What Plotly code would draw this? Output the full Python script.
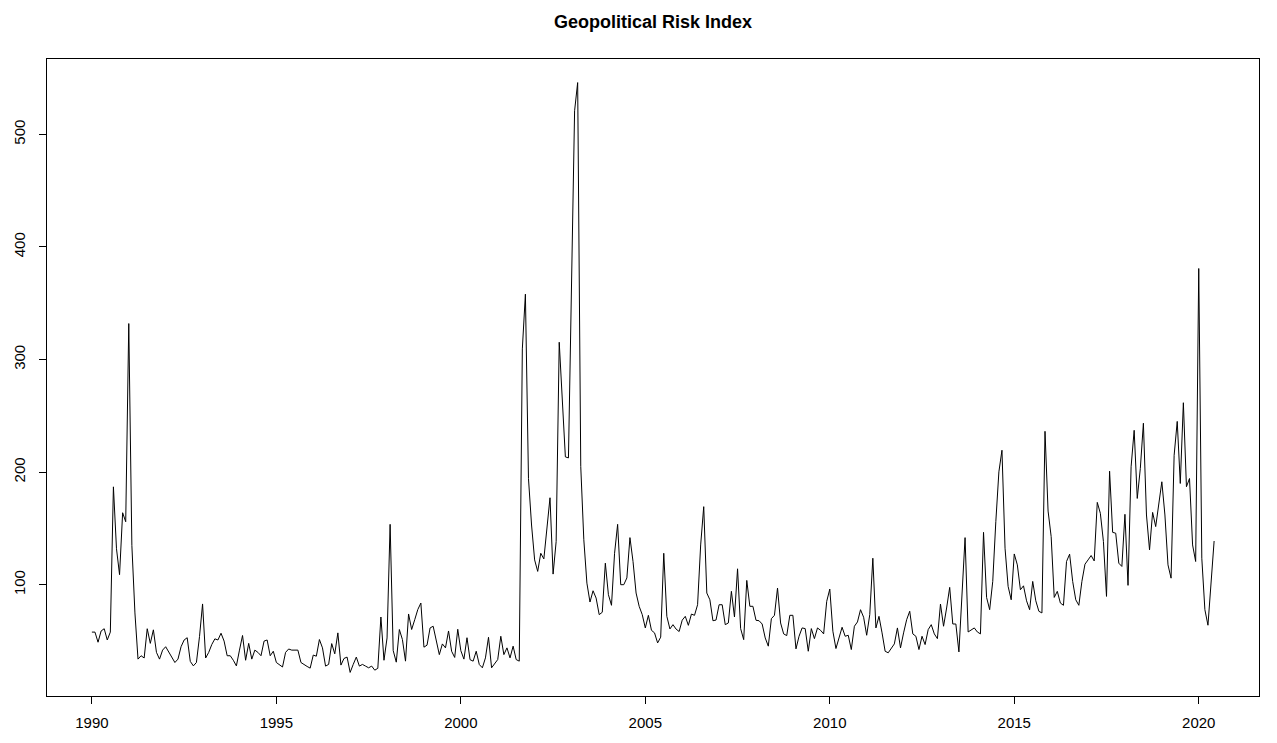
import numpy as np
import plotly.graph_objects as go

# Monthly Geopolitical Risk Index, January 1990 onward
start_year = 1990
gpr_1990s = [
    58, 58, 49, 59, 61, 51, 58, 187, 132, 109, 164, 156,
    332, 135, 75, 34, 37, 35, 61, 48, 60, 40, 34, 42,
    45, 40, 36, 31, 34, 45, 51, 53, 32, 28, 31, 54,
    83, 35, 40, 47, 52, 51, 57, 50, 37, 37, 33, 28,
    42, 55, 33, 48, 34, 42, 40, 37, 50, 51, 37, 41,
    31, 29, 27, 40, 43, 42, 42, 42, 31, 29, 27.5, 26,
    37.6, 36.6, 51.4, 44, 27.8, 29.3, 47.8, 38.7, 57.3, 28.7, 34.6, 35.8,
    22.2, 29.3, 35.8, 27.8, 29.3, 27.8, 26.3, 27.8, 24.2, 25.8, 71.4, 33,
    52.8, 153.7, 41.6, 31.3, 60.3, 51.4, 32.2, 74.1, 60.3, 69, 78, 83.8,
    44.6, 46.4, 61.7, 63.2, 50, 38, 47.5, 44, 59, 41, 35.5, 60.5,
]
gpr_2000s = [
    41.5, 34, 53, 33.5, 32.2, 41, 29.2, 26.3, 35.1, 53.4, 26.3, 29.8,
    33.6, 54.3, 38, 44, 35.1, 45.5, 33.6, 32.2, 309.5, 358.1, 194.4, 153.1,
    122.1, 111.9, 128, 123, 147.3, 177.3, 109.5, 138.4, 315.4, 265, 213.6, 212.7,
    370, 521, 546, 205, 140, 101.5, 84.7, 94.7, 88.2, 73.5, 75.6, 119.2,
    91.2, 81.8, 128, 153.7, 100.1, 100.1, 106.1, 141.9, 120.7, 92.7, 80.9, 73.5,
    61.7, 72.9, 59.6, 57.3, 48.4, 53.5, 128, 72, 60.8, 64.6, 60.7, 58.5,
    68.6, 72, 64, 74, 72.9, 82.3, 135.4, 169.4, 92.7, 86.7, 68.1, 68.7,
    82.3, 82.3, 64.6, 66.1, 94.2, 71.4, 114.2, 61.1, 51.3, 103.9, 80.9, 80.9,
    68.5, 68.1, 65.2, 52.8, 45.5, 69.9, 72.9, 97.1, 66.1, 56.4, 54.9, 72.9,
    72.9, 43.1, 54.3, 61.7, 61.1, 41, 61.1, 52.2, 61.7, 59.6, 56.4, 85.3,
]
gpr_2010s = [
    96.2, 58.8, 43.4, 53.4, 62.3, 54.3, 55.2, 42.5, 63.2, 67, 77.9, 71.2,
    55.2, 73.5, 123.6, 61.7, 72, 57.3, 41, 39.6, 43.4, 47.5, 61.7, 44,
    57.3, 69, 76.5, 56.4, 54.3, 42.5, 54.3, 46.9, 60.2, 64.6, 56.4, 52.2,
    82.9, 63.2, 79.4, 97.7, 65.2, 65.2, 40.4, 97.1, 141.9, 58.1, 60.2, 61.7,
    58.1, 56.4, 146.6, 88.8, 77.9, 103, 156.1, 200.3, 219.5, 132.5, 98.6, 86.7,
    127.4, 117.7, 95.6, 99.1, 85.8, 77.9, 103, 85.8, 76.5, 75, 236.3, 165.5,
    142.8, 88.8, 94.2, 83.8, 81.8, 120.7, 127.2, 103, 86.7, 81.8, 103, 118.3,
    122.1, 126, 121.2, 173.2, 163.5, 138.4, 89.7, 200.9, 146.6, 145.8, 119.2, 116.3,
    162.6, 99.5, 204.8, 237.2, 176.7, 203.3, 243.5, 162, 131, 164.3, 151.7, 174.3,
    191.5, 162, 117.7, 105.9, 215, 245.1, 190, 261.7, 187.1, 194.4, 135.4, 120.7,
]
gpr_2020 = [380.9, 123.6, 77.9, 64.1, 100, 138.9]

x_ticks = [1990, 1995, 2000, 2005, 2010, 2015, 2020]
y_ticks = [100, 200, 300, 400, 500]

values = np.array(gpr_1990s + gpr_2000s + gpr_2010s + gpr_2020, dtype=float)
time = start_year + np.arange(len(values)) / 12.0

# base-R style axis limits: data range extended by 4% on each side
def padded(lo, hi, frac=0.04):
    d = (hi - lo) * frac
    return [lo - d, hi + d]

xr = padded(time.min(), time.max())
yr = padded(values.min(), values.max())

font_family = "Liberation Sans, Arial, Helvetica, sans-serif"

fig = go.Figure()
fig.add_trace(go.Scatter(
    x=time, y=values, mode="lines",
    line=dict(color="black", width=1),
    hoverinfo="x+y", showlegend=False,
))

fig.update_layout(
    width=1277, height=743,
    margin=dict(l=47, r=18, t=59, b=47),
    paper_bgcolor="white", plot_bgcolor="white",
    font=dict(family=font_family, color="black", size=15),
    title=dict(
        text="<b>Geopolitical Risk Index</b>",
        x=0.5, xref="paper", xanchor="center",
        y=1 - 22 / 743, yref="container", yanchor="middle",
        font=dict(family=font_family, size=18, color="black"),
    ),
)
fig.update_xaxes(
    range=xr, tickmode="array", tickvals=x_ticks,
    ticktext=[str(t) for t in x_ticks],
    ticks="outside", ticklen=7, tickwidth=1, tickcolor="black",
    showline=True, linecolor="black", linewidth=1, mirror=True,
    showgrid=False, zeroline=False, ticklabelstandoff=6,
)
fig.update_yaxes(
    range=yr, tickmode="array", tickvals=y_ticks,
    ticktext=[str(t) for t in y_ticks], tickangle=-90,
    ticks="outside", ticklen=7, tickwidth=1, tickcolor="black",
    showline=True, linecolor="black", linewidth=1, mirror=True,
    showgrid=False, zeroline=False, ticklabelstandoff=8,
)

fig.write_html("out.html")
